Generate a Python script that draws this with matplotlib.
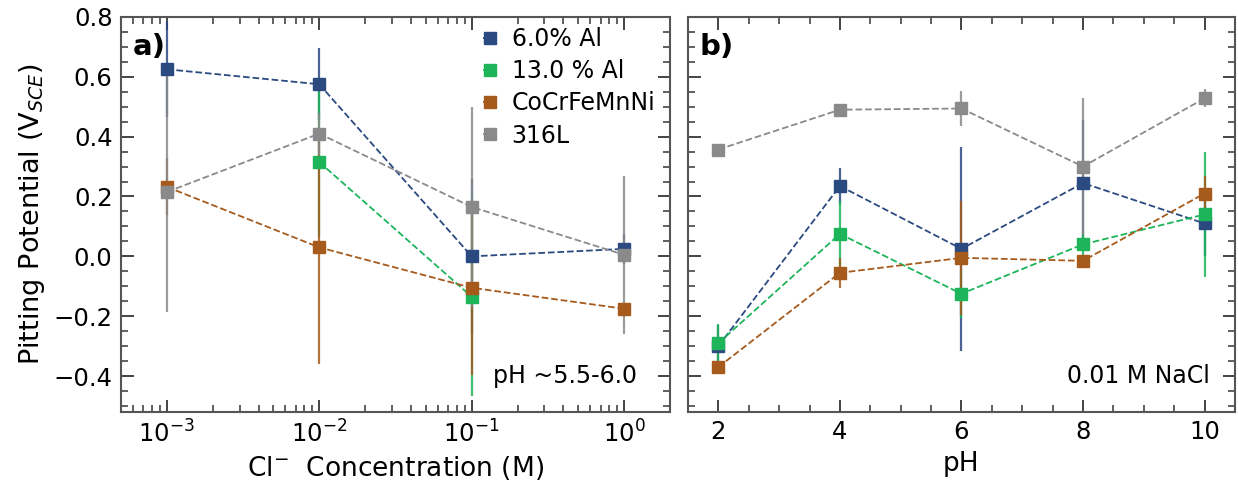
import numpy as np
import matplotlib
matplotlib.use("Agg")
from matplotlib import pyplot as plt
from matplotlib.ticker import MultipleLocator, LogLocator, NullFormatter

# data: panel a, vs Cl- concentration
conc = [1e-3, 1e-2, 1e-1, 1e0]
al6_a = [0.625, 0.575, 0.0, 0.025]
al6_a_err = [0.16, 0.12, 0.26, 0.05]
al13_a = [np.nan, 0.315, -0.135, np.nan]
al13_a_err = [np.nan, 0.25, 0.33, np.nan]
cantor_a = [0.232, 0.03, -0.105, -0.175]
cantor_a_err = [0.095, 0.39, 0.29, 0.02]
ss316_a = [0.215, 0.41, 0.165, 0.005]
ss316_a_err = [0.40, 0.07, 0.335, 0.265]

# data: panel b, vs pH at 0.01 M NaCl
ph = [2, 4, 6, 8, 10]
al6_b = [-0.30, 0.235, 0.025, 0.245, 0.11]
al6_b_err = [0.07, 0.06, 0.34, 0.21, 0.11]
al13_b = [-0.29, 0.075, -0.125, 0.04, 0.14]
al13_b_err = [0.065, 0.11, 0.08, 0.04, 0.21]
cantor_b = [-0.37, -0.055, -0.005, -0.015, 0.21]
cantor_b_err = [0.02, 0.05, 0.19, 0.015, 0.06]
ss316_b = [0.357, 0.49, 0.494, 0.30, 0.528]
ss316_b_err = [0.02, 0.015, 0.06, 0.23, 0.03]

labels = ["6.0% Al", "13.0 % Al", "CoCrFeMnNi", "316L"]
colors = ["#2a4a80", "#1db45a", "#a65a1c", "#8a8a8a"]

plt.rcParams['font.family'] = ['DejaVu Sans']
plt.rcParams['mathtext.fontset'] = 'dejavusans'

fig = plt.figure(figsize=(12.38, 4.83), dpi=100)
ax1 = fig.add_axes([0.0977, 0.147, 0.4435, 0.818])
ax2 = fig.add_axes([0.5557, 0.147, 0.4418, 0.818])

series_a = [(al6_a, al6_a_err), (al13_a, al13_a_err), (cantor_a, cantor_a_err), (ss316_a, ss316_a_err)]
series_b = [(al6_b, al6_b_err), (al13_b, al13_b_err), (cantor_b, cantor_b_err), (ss316_b, ss316_b_err)]

for ax, xs, series in [(ax1, conc, series_a), (ax2, ph, series_b)]:
    for (y, e), c, lab in zip(series, colors, labels):
        ax.errorbar(xs, y, yerr=e, fmt='none', ecolor=c, elinewidth=1.6, alpha=0.85, zorder=2)
        ax.plot(xs, y, ls='--', color=c, lw=1.3, marker='s', ms=9, label=lab, zorder=3)

ax1.set_xscale('log')
ax1.set_xlim(5e-4, 2)
ax1.xaxis.set_major_locator(LogLocator(base=10, numticks=10))
ax1.xaxis.set_minor_locator(LogLocator(base=10, subs=np.arange(2, 10), numticks=20))
ax1.xaxis.set_minor_formatter(NullFormatter())

ax2.set_xlim(1.5, 10.5)
ax2.xaxis.set_major_locator(MultipleLocator(2))
ax2.xaxis.set_minor_locator(MultipleLocator(0.5))

for ax in (ax1, ax2):
    ax.set_ylim(-0.52, 0.8)
    ax.yaxis.set_major_locator(MultipleLocator(0.2))
    ax.yaxis.set_minor_locator(MultipleLocator(0.05))
    ax.tick_params(which='both', direction='in', top=True, right=True, color='#444444')
    ax.tick_params(which='major', length=9, width=1.4, labelsize=17.5, pad=6)
    ax.tick_params(which='minor', length=5, width=1.2)
    for s in ax.spines.values():
        s.set_color('#555555')
        s.set_linewidth(1.5)

ax2.tick_params(labelleft=False)

ax1.set_ylabel("Pitting Potential (V$_{SCE}$)", fontsize=19.5, labelpad=5)
ax1.set_xlabel("Cl$^{-}$  Concentration (M)", fontsize=19, labelpad=5)
ax2.set_xlabel("pH", fontsize=19, labelpad=5)

ax1.text(0.022, 0.925, "a)", transform=ax1.transAxes, fontsize=21, fontweight='bold', va='center')
ax2.text(0.022, 0.925, "b)", transform=ax2.transAxes, fontsize=21, fontweight='bold', va='center')
ax1.text(0.94, 0.06, "pH ~5.5-6.0", transform=ax1.transAxes, fontsize=17, ha='right', va='bottom')
ax2.text(0.955, 0.06, "0.01 M NaCl", transform=ax2.transAxes, fontsize=17, ha='right', va='bottom')

ax1.legend(loc='upper left', bbox_to_anchor=(0.66, 0.975), frameon=False, fontsize=17,
           handlelength=0.6, handletextpad=0.6, labelspacing=0.35, borderpad=0, borderaxespad=0)

fig.savefig("out.png", dpi=100)
